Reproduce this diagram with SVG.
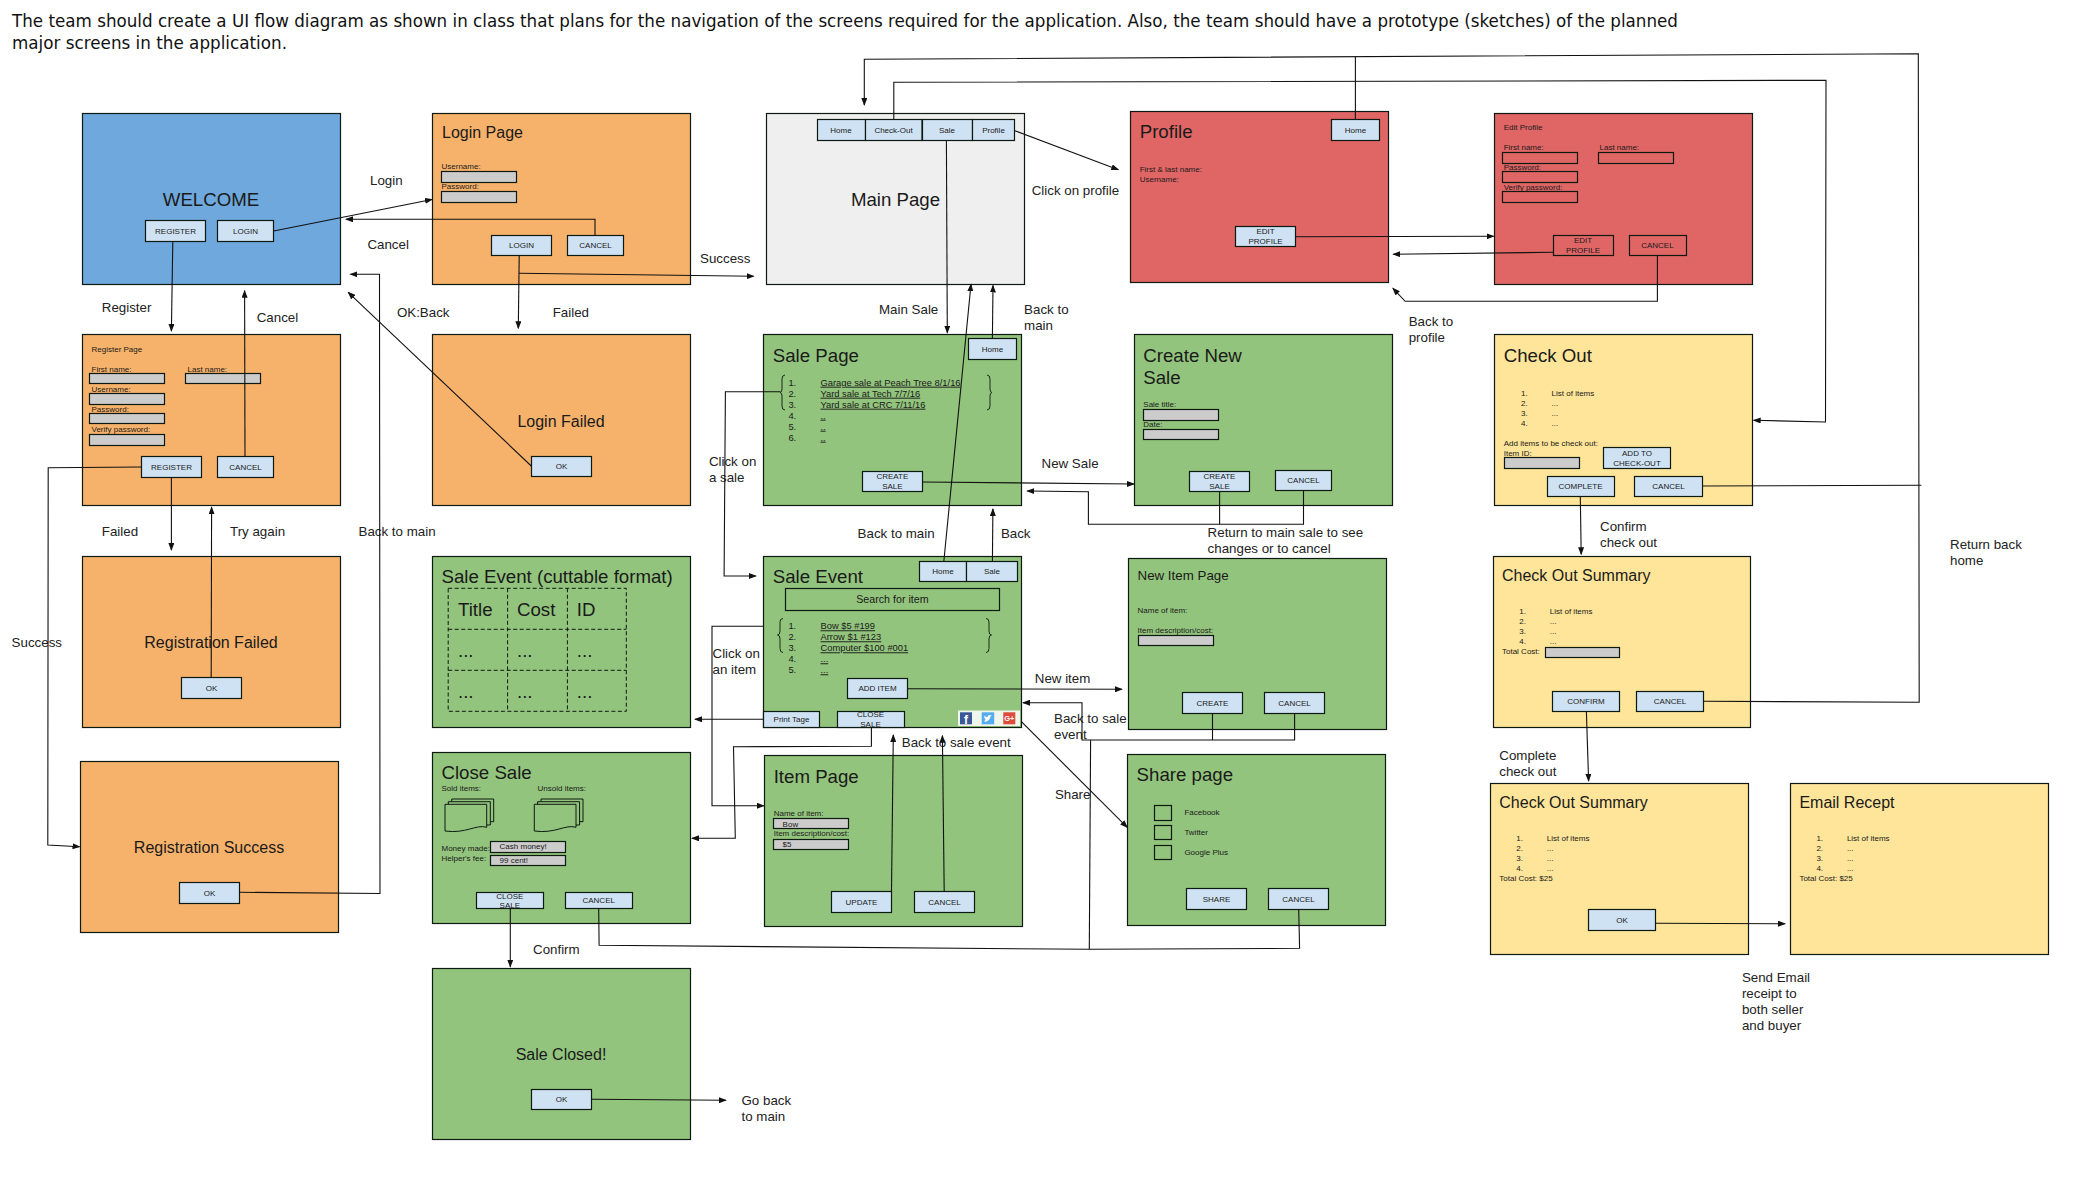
<svg xmlns="http://www.w3.org/2000/svg" width="2083" height="1178" viewBox="0 0 2083 1178">
<style>
text{font-family:"Liberation Sans",Arial,sans-serif;fill:#1a1a1a}
.hd{font-family:"DejaVu Sans",sans-serif;font-size:18px;fill:#111}
.h18{font-size:18.67px}.h16{font-size:16px}.h13{font-size:13.33px}.l{font-size:13.33px;fill:#222}
.t8{font-size:8px}.t9{font-size:9.33px}.u{text-decoration:underline}.t10{font-size:10.67px}
.m{text-anchor:middle}
.scr,.btn,.inp,.box{stroke:#0d1a12;stroke-width:1.2}
.blue{fill:#6fa8dc}.org{fill:#f6b26b}.grn{fill:#93c47d}.red{fill:#e06666}.yel{fill:#ffe599}.gry{fill:#efefef}
.btn{fill:#cfe2f3}.inp{fill:#cccccc}.box{fill:none}
.cut{fill:none;stroke:#0d1a12;stroke-width:1;stroke-dasharray:4 2.5}
.br{fill:none;stroke:#1a2a1a;stroke-width:1}
#connectors path{fill:none;stroke:#111;stroke-width:1.1}
.a{marker-end:url(#arr)}
</style>
<defs>
<marker id="arr" markerUnits="userSpaceOnUse" markerWidth="8" markerHeight="6" refX="7" refY="3" orient="auto"><path d="M0,0L8,3L0,6Z" fill="#111" stroke="none"/></marker>
<g id="docs" fill="#93c47d" stroke="#0d1a12" stroke-width="1">
<path d="M451.7,799H493.7V821.7H451.7Z"/>
<path d="M448.3,801.7H490.3V825H448.3Z"/>
<path d="M445,804.3H486.7V827.3C476,824 466,834 445,831Z"/>
</g>
</defs>
<rect width="2083" height="1178" fill="#fff"/>
<g id="heading">
<text class="hd" x="12" y="26.7" textLength="1666" lengthAdjust="spacingAndGlyphs">The team should create a UI flow diagram as shown in class that plans for the navigation of the screens required for the application. Also, the team should have a prototype (sketches) of the planned</text>
<text class="hd" x="12" y="49" textLength="275" lengthAdjust="spacingAndGlyphs">major screens in the application.</text>
</g>
<g id="welcome"><rect class="scr blue" x="82.5" y="113.5" width="258" height="171"/>
<text class="h18 m" x="211" y="205.7">WELCOME</text>
<rect class="btn" x="145.5" y="220.5" width="60" height="21"/><text class="t8 m" x="175.5" y="234">REGISTER</text>
<rect class="btn" x="217.5" y="220.5" width="56" height="21"/><text class="t8 m" x="245.5" y="234">LOGIN</text></g>
<g id="login-page"><rect class="scr org" x="432.5" y="113.5" width="258" height="171"/>
<text class="h16" x="442" y="138">Login Page</text>
<text class="t8" x="441.5" y="169">Username:</text><rect class="inp" x="441.5" y="171.5" width="75" height="11"/>
<text class="t8" x="441.5" y="189">Password:</text><rect class="inp" x="441.5" y="191.5" width="75" height="11"/>
<rect class="btn" x="491.5" y="235.5" width="60" height="20"/><text class="t8 m" x="521.5" y="248">LOGIN</text>
<rect class="btn" x="567.5" y="235.5" width="56" height="20"/><text class="t8 m" x="595.5" y="248">CANCEL</text></g>
<g id="register-page"><rect class="scr org" x="82.5" y="334.5" width="258" height="171"/>
<text class="t8" x="91.5" y="351.7">Register Page</text>
<text class="t8" x="91.5" y="371.7">First name:</text><rect class="inp" x="89.5" y="373.5" width="75" height="10"/>
<text class="t8" x="187.5" y="371.7">Last name:</text><rect class="inp" x="185.5" y="373.5" width="75" height="10"/>
<text class="t8" x="91.5" y="391.7">Username:</text><rect class="inp" x="89.5" y="393.5" width="75" height="11"/>
<text class="t8" x="91.5" y="411.7">Password:</text><rect class="inp" x="89.5" y="413.5" width="75" height="10"/>
<text class="t8" x="91.5" y="431.7">Verify password:</text><rect class="inp" x="89.5" y="434.5" width="75" height="11"/>
<rect class="btn" x="141.5" y="456.5" width="60" height="21"/><text class="t8 m" x="171.5" y="470">REGISTER</text>
<rect class="btn" x="217.5" y="456.5" width="56" height="21"/><text class="t8 m" x="245.5" y="470">CANCEL</text></g>
<g id="login-failed"><rect class="scr org" x="432.5" y="334.5" width="258" height="171"/>
<text class="h16 m" x="561" y="426.7">Login Failed</text>
<rect class="btn" x="531.5" y="456.5" width="60" height="20"/><text class="t8 m" x="561.5" y="469">OK</text></g>
<g id="registration-failed"><rect class="scr org" x="82.5" y="556.5" width="258" height="171"/>
<text class="h16 m" x="211" y="648.3">Registration Failed</text>
<rect class="btn" x="181.5" y="677.5" width="60" height="21"/><text class="t8 m" x="211.5" y="690.7">OK</text></g>
<g id="registration-success"><rect class="scr org" x="80.5" y="761.5" width="258" height="171"/>
<text class="h16 m" x="209" y="853.3">Registration Success</text>
<rect class="btn" x="179.5" y="882.5" width="60" height="21"/><text class="t8 m" x="209.5" y="895.7">OK</text></g>
<g id="sale-event-cuttable"><rect class="scr grn" x="432.5" y="556.5" width="258" height="171"/>
<text class="h18" x="441.5" y="583.3">Sale Event (cuttable format)</text>
<path class="cut" d="M448.2,588.3H626.3V711.3H448.2ZM507.6,588.3V711.3M567.4,588.3V711.3M448.2,629.3H626.3M448.2,670.3H626.3"/>
<text class="h18" x="458" y="615.7">Title</text><text class="h18" x="517" y="615.7">Cost</text><text class="h18" x="576.8" y="615.7">ID</text>
<text class="h18" x="458" y="657">...</text><text class="h18" x="517" y="657">...</text><text class="h18" x="576.8" y="657">...</text>
<text class="h18" x="458" y="698">...</text><text class="h18" x="517" y="698">...</text><text class="h18" x="576.8" y="698">...</text></g>
<g id="close-sale"><rect class="scr grn" x="432.5" y="752.5" width="258" height="171"/>
<text class="h18" x="441.5" y="779.3">Close Sale</text>
<text class="t8" x="441.5" y="790.7">Sold items:</text><text class="t8" x="537.5" y="790.7">Unsold items:</text>
<use href="#docs"/><use href="#docs" x="89.3"/>
<text class="t8" x="441.5" y="850.7">Money made:</text><text class="t8" x="441.5" y="860.7">Helper's fee:</text>
<rect class="inp" x="490.5" y="841.5" width="75" height="11"/><text class="t8" x="499.6" y="849.3">Cash money!</text>
<rect class="inp" x="490.5" y="855.5" width="75" height="10"/><text class="t8" x="499.6" y="862.7">99 cent!</text>
<rect class="btn" x="476.5" y="892.5" width="67" height="16"/><text class="t8 m" x="509.8" y="898.7">CLOSE</text><text class="t8 m" x="509.8" y="908.3">SALE</text>
<rect class="btn" x="565.5" y="892.5" width="67" height="16"/><text class="t8 m" x="598.7" y="903.3">CANCEL</text></g>
<g id="sale-closed"><rect class="scr grn" x="432.5" y="968.5" width="258" height="171"/>
<text class="h16 m" x="561" y="1060">Sale Closed!</text>
<rect class="btn" x="531.5" y="1089.5" width="60" height="20"/><text class="t8 m" x="561.5" y="1102.3">OK</text></g>
<g id="main-page"><rect class="scr gry" x="766.5" y="113.5" width="258" height="171"/>
<text class="h18 m" x="895.5" y="205.7">Main Page</text>
<rect class="btn" x="817.5" y="119.5" width="48" height="21"/><text class="t8 m" x="841" y="133">Home</text>
<rect class="btn" x="865.5" y="119.5" width="56.500" height="21"/><text class="t8 m" x="893.500" y="133">Check-Out</text>
<rect class="btn" x="922.5" y="119.5" width="50" height="21"/><text class="t8 m" x="947" y="133">Sale</text>
<rect class="btn" x="972.5" y="119.5" width="42" height="21"/><text class="t8 m" x="993.500" y="133">Profile</text></g>
<g id="sale-page"><rect class="scr grn" x="763.5" y="334.5" width="258" height="171"/>
<text class="h18" x="772.8" y="361.7">Sale Page</text>
<rect class="btn" x="968.5" y="338.5" width="48" height="21"/><text class="t8 m" x="992.5" y="352">Home</text>
<path class="br" d="M785,375Q782,375 782,379V389Q782,392.5 780,392.5Q782,392.5 782,396V406Q782,410 785,410"/>
<path class="br" d="M987,375Q990,375 990,379V389Q990,392.5 992,392.5Q990,392.5 990,396V406Q990,410 987,410"/>
<text class="t9" x="788.4" y="385.7">1.</text><text class="t9 u" x="820.5" y="385.7">Garage sale at Peach Tree 8/1/16</text>
<text class="t9" x="788.4" y="396.7">2.</text><text class="t9 u" x="820.5" y="396.7">Yard sale at Tech 7/7/16</text>
<text class="t9" x="788.4" y="407.7">3.</text><text class="t9 u" x="820.5" y="407.7">Yard sale at CRC 7/11/16</text>
<text class="t9" x="788.4" y="418.7">4.</text><text class="t9 u" x="820.5" y="418.7">..</text>
<text class="t9" x="788.4" y="429.7">5.</text><text class="t9 u" x="820.5" y="429.7">..</text>
<text class="t9" x="788.4" y="440.7">6.</text><text class="t9 u" x="820.5" y="440.7">..</text>
<rect class="btn" x="862.5" y="471.5" width="60" height="20"/><text class="t8 m" x="892.4" y="479">CREATE</text><text class="t8 m" x="892.4" y="489">SALE</text></g>
<g id="sale-event"><rect class="scr grn" x="763.5" y="556.5" width="258" height="171"/>
<text class="h18" x="772.8" y="582.7">Sale Event</text>
<rect class="btn" x="919.5" y="561.5" width="47" height="20"/><text class="t8 m" x="943" y="574.3">Home</text>
<rect class="btn" x="966.5" y="561.5" width="51" height="20"/><text class="t8 m" x="992" y="574.3">Sale</text>
<rect class="box" x="785.5" y="588.5" width="214" height="22"/><text class="t10 m" x="892.4" y="602.7">Search for item</text>
<path class="br" d="M783,618.5Q780,618.5 780,622V631Q780,635 777.500,635Q780,635 780,639V648.500Q780,652.500 783,652.500"/>
<path class="br" d="M986,618.5Q989,618.5 989,622V631Q989,635 991.500,635Q989,635 989,639V648.500Q989,652.500 986,652.500"/>
<text class="t9" x="788.4" y="629.3">1.</text><text class="t9 u" x="820.5" y="629.3">Bow $5 #199</text>
<text class="t9" x="788.4" y="640.3">2.</text><text class="t9 u" x="820.5" y="640.3">Arrow $1 #123</text>
<text class="t9" x="788.4" y="651.3">3.</text><text class="t9 u" x="820.5" y="651.3">Computer $100 #001</text>
<text class="t9" x="788.4" y="662.3">4.</text><text class="t9 u" x="820.5" y="662.3">...</text>
<text class="t9" x="788.4" y="673.3">5.</text><text class="t9 u" x="820.5" y="673.3">...</text>
<rect class="btn" x="847.5" y="678.5" width="60" height="20"/><text class="t8 m" x="877.5" y="691.3">ADD ITEM</text>
<rect class="btn" x="763.5" y="711.5" width="56" height="16"/><text class="t8 m" x="791.5" y="722">Print Tage</text>
<rect class="btn" x="837.5" y="711.5" width="67" height="16"/><text class="t8 m" x="870.5" y="716.7">CLOSE</text><text class="t8 m" x="870.5" y="726.7">SALE</text>
<rect x="958" y="710.5" width="62" height="15.500" fill="#fff" opacity=".85"/>
<rect x="960" y="712.3" width="12" height="12" fill="#3b5998"/><text x="966" y="723.5" class="m" font-size="12" font-weight="bold" style="fill:#fff">f</text>
<rect x="981.700" y="712.3" width="12.500" height="12" fill="#55acee"/><path d="M984,721.500Q989,722.500 990.500,716.500L992,715.500L990,715.200Q988,714.500 987.500,717Q985.500,717 984,715.500Q984,718 985.500,719Q985,720.500 984,721.500Z" fill="#fff"/>
<rect x="1003.300" y="712.3" width="12" height="12" fill="#dd4b39"/><text x="1009.300" y="721" class="m" font-size="7.500" font-weight="bold" style="fill:#fff">G+</text></g>
<g id="item-page"><rect class="scr grn" x="764.5" y="755.5" width="258" height="171"/>
<text class="h18" x="773.7" y="782.7">Item Page</text>
<text class="t8" x="773.7" y="816">Name of item:</text><rect class="inp" x="773.5" y="818.5" width="75" height="10"/><text class="t8" x="782.6" y="826.7">Bow</text>
<text class="t8" x="773.7" y="836">Item description/cost:</text><rect class="inp" x="773.5" y="839.5" width="75" height="10"/><text class="t8" x="782.6" y="846.7">$5</text>
<rect class="btn" x="831.5" y="891.5" width="60" height="21"/><text class="t8 m" x="861.5" y="904.7">UPDATE</text>
<rect class="btn" x="914.5" y="891.5" width="60" height="21"/><text class="t8 m" x="944.5" y="904.7">CANCEL</text></g>
<g id="profile"><rect class="scr red" x="1130.5" y="111.5" width="258" height="171"/>
<text class="h18" x="1139.7" y="138.3">Profile</text>
<rect class="btn" x="1331.5" y="119.5" width="48" height="21"/><text class="t8 m" x="1355.5" y="133">Home</text>
<text class="t8" x="1139.7" y="172.3">First &amp; last name:</text><text class="t8" x="1139.7" y="182.3">Username:</text>
<rect class="btn" x="1235.5" y="226.5" width="60" height="20"/><text class="t8 m" x="1265.6" y="234">EDIT</text><text class="t8 m" x="1265.6" y="244">PROFILE</text></g>
<g id="edit-profile"><rect class="scr red" x="1494.5" y="113.5" width="258" height="171"/>
<text class="t8" x="1503.7" y="130">Edit Profile</text>
<text class="t8" x="1503.7" y="150">First name:</text><rect class="box" x="1502.5" y="152.5" width="75" height="11"/>
<text class="t8" x="1599.5" y="150">Last name:</text><rect class="box" x="1598.5" y="152.5" width="75" height="11"/>
<text class="t8" x="1503.7" y="170">Password:</text><rect class="box" x="1502.5" y="171.5" width="75" height="11"/>
<text class="t8" x="1503.7" y="190">Verify password:</text><rect class="box" x="1502.5" y="191.5" width="75" height="11"/>
<rect class="box" x="1553.5" y="235.5" width="60" height="20"/><text class="t8 m" x="1583" y="242.7">EDIT</text><text class="t8 m" x="1583" y="252.7">PROFILE</text>
<rect class="box" x="1629.5" y="235.5" width="57" height="20"/><text class="t8 m" x="1657.4" y="248">CANCEL</text></g>
<g id="create-new-sale"><rect class="scr grn" x="1134.5" y="334.5" width="258" height="171"/>
<text class="h18" x="1143.3" y="361.7">Create New</text><text class="h18" x="1143.3" y="383.7">Sale</text>
<text class="t8" x="1143.3" y="406.7">Sale title:</text><rect class="inp" x="1143.5" y="409.5" width="75" height="11"/>
<text class="t8" x="1143.3" y="426.7">Date:</text><rect class="inp" x="1143.5" y="429.5" width="75" height="10"/>
<rect class="btn" x="1189.5" y="471.5" width="60" height="20"/><text class="t8 m" x="1219.5" y="479">CREATE</text><text class="t8 m" x="1219.5" y="489">SALE</text>
<rect class="btn" x="1275.5" y="470.5" width="56" height="20"/><text class="t8 m" x="1303.5" y="483.3">CANCEL</text></g>
<g id="new-item-page"><rect class="scr grn" x="1128.5" y="558.5" width="258" height="171"/>
<text class="h13" x="1137.5" y="580">New Item Page</text>
<text class="t8" x="1137.5" y="612.7">Name of item:</text>
<text class="t8" x="1137.5" y="632.7">Item description/cost:</text><rect class="inp" x="1138.5" y="635.5" width="75" height="10"/>
<rect class="btn" x="1182.5" y="692.5" width="60" height="21"/><text class="t8 m" x="1212.5" y="705.7">CREATE</text>
<rect class="btn" x="1264.5" y="692.5" width="60" height="21"/><text class="t8 m" x="1294.5" y="705.7">CANCEL</text></g>
<g id="share-page"><rect class="scr grn" x="1127.5" y="754.5" width="258" height="171"/>
<text class="h18" x="1136.6" y="780.7">Share page</text>
<rect class="box" x="1154.5" y="805.5" width="17" height="15"/><text class="t8" x="1184.4" y="815">Facebook</text>
<rect class="box" x="1154.5" y="825.5" width="17" height="14"/><text class="t8" x="1184.4" y="835">Twitter</text>
<rect class="box" x="1154.5" y="845.5" width="17" height="14"/><text class="t8" x="1184.4" y="855">Google Plus</text>
<rect class="btn" x="1186.5" y="888.5" width="60" height="21"/><text class="t8 m" x="1216.5" y="901.7">SHARE</text>
<rect class="btn" x="1268.5" y="888.5" width="60" height="21"/><text class="t8 m" x="1298.5" y="901.7">CANCEL</text></g>
<g id="check-out"><rect class="scr yel" x="1494.5" y="334.5" width="258" height="171"/>
<text class="h18" x="1503.7" y="361.7">Check Out</text>
<text class="t8" x="1521" y="395.7">1.</text><text class="t8" x="1551.6" y="395.7">List of items</text>
<text class="t8" x="1521" y="405.7">2.</text><text class="t8" x="1551.6" y="405.7">...</text>
<text class="t8" x="1521" y="415.7">3.</text><text class="t8" x="1551.6" y="415.7">...</text>
<text class="t8" x="1521" y="425.7">4.</text><text class="t8" x="1551.6" y="425.7">...</text>
<text class="t8" x="1503.7" y="445.7">Add items to be check out:</text><text class="t8" x="1503.7" y="455.7">Item ID:</text>
<rect class="inp" x="1504.5" y="457.5" width="75" height="11"/>
<rect class="btn" x="1603.5" y="447.5" width="67" height="21"/><text class="t8 m" x="1637" y="455.7">ADD TO</text><text class="t8 m" x="1637" y="465.7">CHECK-OUT</text>
<rect class="btn" x="1547.5" y="476.5" width="67" height="20"/><text class="t8 m" x="1580.5" y="489.3">COMPLETE</text>
<rect class="btn" x="1634.5" y="476.5" width="68" height="20"/><text class="t8 m" x="1668.5" y="489.3">CANCEL</text></g>
<g id="check-out-summary"><rect class="scr yel" x="1493.5" y="556.5" width="257" height="171"/>
<text class="h16" x="1502" y="580.7">Check Out Summary</text>
<text class="t8" x="1519.3" y="614">1.</text><text class="t8" x="1549.8" y="614">List of items</text>
<text class="t8" x="1519.3" y="624">2.</text><text class="t8" x="1549.8" y="624">...</text>
<text class="t8" x="1519.3" y="634">3.</text><text class="t8" x="1549.8" y="634">...</text>
<text class="t8" x="1519.3" y="644">4.</text><text class="t8" x="1549.8" y="644">...</text>
<text class="t8" x="1502" y="654">Total Cost:</text><rect class="inp" x="1545.5" y="647.5" width="74" height="10"/>
<rect class="btn" x="1552.5" y="691.5" width="67" height="20"/><text class="t8 m" x="1586" y="704.3">CONFIRM</text>
<rect class="btn" x="1636.5" y="691.5" width="67" height="20"/><text class="t8 m" x="1670" y="704.3">CANCEL</text></g>
<g id="check-out-summary-2"><rect class="scr yel" x="1490.5" y="783.5" width="258" height="171"/>
<text class="h16" x="1499.3" y="807.7">Check Out Summary</text>
<text class="t8" x="1516.3" y="840.7">1.</text><text class="t8" x="1546.8" y="840.7">List of items</text>
<text class="t8" x="1516.3" y="850.7">2.</text><text class="t8" x="1546.8" y="850.7">...</text>
<text class="t8" x="1516.3" y="860.7">3.</text><text class="t8" x="1546.8" y="860.7">...</text>
<text class="t8" x="1516.3" y="870.7">4.</text><text class="t8" x="1546.8" y="870.7">...</text>
<text class="t8" x="1499.3" y="880.7">Total Cost: $25</text>
<rect class="btn" x="1588.5" y="909.5" width="67" height="21"/><text class="t8 m" x="1622" y="923">OK</text></g>
<g id="email-receipt"><rect class="scr yel" x="1790.5" y="783.5" width="258" height="171"/>
<text class="h16" x="1799.4" y="807.7">Email Recept</text>
<text class="t8" x="1816.4" y="840.7">1.</text><text class="t8" x="1846.9" y="840.7">List of items</text>
<text class="t8" x="1816.4" y="850.7">2.</text><text class="t8" x="1846.9" y="850.7">...</text>
<text class="t8" x="1816.4" y="860.7">3.</text><text class="t8" x="1846.9" y="860.7">...</text>
<text class="t8" x="1816.4" y="870.7">4.</text><text class="t8" x="1846.9" y="870.7">...</text>
<text class="t8" x="1799.4" y="880.7">Total Cost: $25</text></g>
<g id="labels">
<text class="l" x="370" y="185">Login</text><text class="l" x="367.4" y="249.3">Cancel</text>
<text class="l" x="101.8" y="312">Register</text><text class="l" x="256.7" y="322.3">Cancel</text>
<text class="l" x="396.9" y="317.3">OK:Back</text><text class="l" x="552.7" y="317.3">Failed</text>
<text class="l" x="101.8" y="535.7">Failed</text><text class="l" x="230" y="535.7">Try again</text>
<text class="l" x="358.5" y="535.7">Back to main</text><text class="l" x="11.6" y="646.7">Success</text>
<text class="l" x="700" y="263">Success</text><text class="l" x="879" y="314.3">Main Sale</text>
<text class="l" x="1024.1" y="314.3">Back to</text><text class="l" x="1024.1" y="330.3">main</text>
<text class="l" x="1031.7" y="195.3">Click on profile</text>
<text class="l" x="708.9" y="465.7">Click on</text><text class="l" x="708.9" y="481.7">a sale</text>
<text class="l" x="1041.5" y="467.7">New Sale</text>
<text class="l" x="857.6" y="538.3">Back to main</text><text class="l" x="1000.9" y="538.3">Back</text>
<text class="l" x="1207.6" y="537">Return to main sale to see</text><text class="l" x="1207.6" y="553">changes or to cancel</text>
<text class="l" x="712.5" y="658">Click on</text><text class="l" x="712.5" y="674">an item</text>
<text class="l" x="1034.8" y="683">New item</text>
<text class="l" x="1054" y="722.7">Back to sale</text><text class="l" x="1054" y="738.7">event</text>
<text class="l" x="901.8" y="746.7">Back to sale event</text><text class="l" x="1054.9" y="799.3">Share</text>
<text class="l" x="533" y="953.7">Confirm</text>
<text class="l" x="741.5" y="1105">Go back</text><text class="l" x="741.5" y="1121">to main</text>
<text class="l" x="1408.7" y="326.3">Back to</text><text class="l" x="1408.7" y="342.3">profile</text>
<text class="l" x="1600" y="531.3">Confirm</text><text class="l" x="1600" y="547.3">check out</text>
<text class="l" x="1950" y="548.7">Return back</text><text class="l" x="1950" y="565">home</text>
<text class="l" x="1499.3" y="760">Complete</text><text class="l" x="1499.3" y="776">check out</text>
<text class="l" x="1741.9" y="981.7">Send Email</text><text class="l" x="1741.9" y="997.7">receipt to</text><text class="l" x="1741.9" y="1013.7">both seller</text><text class="l" x="1741.9" y="1029.7">and buyer</text>
</g>
<g id="connectors">
<path class="a" d="M273.7,231L432,199.500"/>
<path class="a" d="M595,235.300V219.300H346"/>
<path class="a" d="M239.700,892.300L380,893.500L379.500,274.300H350.400"/>
<path class="a" d="M172.800,241.300L171.400,331"/>
<path class="a" d="M245,456.300L244.600,290.700"/>
<path class="a" d="M531.300,466L348.200,292.300"/>
<path class="a" d="M519.200,255.700L518.300,328.300"/>
<path class="a" d="M519,273.300L753.600,276.300"/>
<path class="a" d="M141.500,467L48.200,467.700L47.800,845L79.500,846.700"/>
<path class="a" d="M171.400,477.300V550"/>
<path class="a" d="M211.200,677.300L211.600,507.300"/>
<path class="a" d="M780.400,391.700H725.400L724.100,576H755.800"/>
<path class="a" d="M763.400,626.300H712V805.700H763.800"/>
<path class="a" d="M763.400,719.300H695"/>
<path class="a" d="M871.400,727.300V746.300L733.500,746.700L735.300,838.300H692"/>
<path class="a" d="M907.600,688.700L1121.900,689.300"/>
<path class="a" d="M1021.400,721.700L1127.200,827.300"/>
<path class="a" d="M891.500,891.300L893.300,735"/>
<path class="a" d="M944.200,891.300L942.400,735.700"/>
<path class="a" d="M943.800,561.700L971,284.300"/>
<path class="a" d="M992.400,561.700L992.900,509"/>
<path class="a" d="M992.400,338.300L993,285.500"/>
<path class="a" d="M922.300,482L1134,484"/>
<path d="M1219.600,491.700V524.300"/>
<path class="a" d="M1303.500,490.700V524.300H1088.400V491.700L1027.200,491"/>
<path d="M1212.500,713.300V740"/>
<path class="a" d="M1294.600,713.300V740H1082V702.700H1023"/>
<path d="M1090.600,740L1089.300,949.300"/>
<path d="M598.700,908.300L599.100,945.300L1089.300,949.300L1299.600,948.300L1298.700,909.300"/>
<path class="a" d="M510.300,908.300V966.700"/>
<path class="a" d="M591.500,1099.300L725.900,1100.300"/>
<path d="M1355.400,119.300V56.700"/>
<path class="a" d="M1703.600,701.300L1919.200,702.300L1918.300,53.700L864.300,59.300V105"/>
<path d="M1702.700,486L1921.300,485.300"/>
<path class="a" d="M893.800,119.300V82.300L1826,80.300L1825.500,422L1753.700,420.300"/>
<path class="a" d="M946.400,140.300L947.300,332.700"/>
<path class="a" d="M1014.700,130.700L1118.300,169.700"/>
<path class="a" d="M1295.500,236.700L1493.600,236.300"/>
<path class="a" d="M1553.300,252.300L1393.300,254.300"/>
<path class="a" d="M1657.400,255.300V301.300H1405.200L1392.900,288.300"/>
<path class="a" d="M1580.300,496.300L1581.200,554.300"/>
<path class="a" d="M1586.400,711.700L1588.600,781"/>
<path class="a" d="M1655.700,923.300L1785,923.700"/>
</g>
</svg>
